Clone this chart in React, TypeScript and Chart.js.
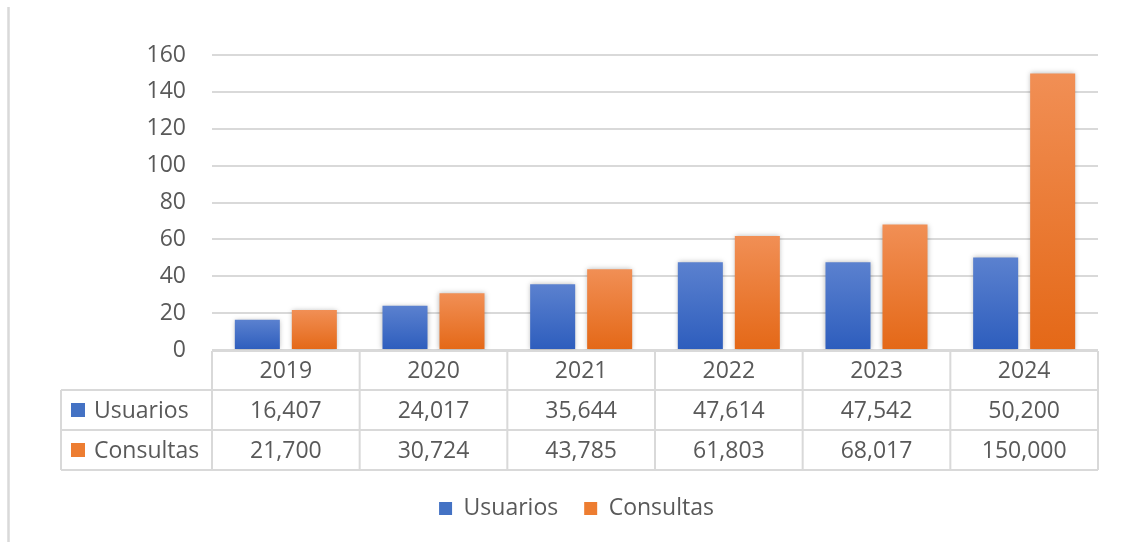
import React, { useEffect, useRef } from "react";
import { Chart, registerables } from "chart.js";

Chart.register(...registerables);

const years = ["2019", "2020", "2021", "2022", "2023", "2024"];
const usuarios = [16407, 24017, 35644, 47614, 47542, 50200];
const consultas = [21700, 30724, 43785, 61803, 68017, 150000];
const seriesNames = ["Usuarios", "Consultas"];
const yMin = 0;
const yMax = 160;
const yStep = 20;

const FONT = "'Open Sans', 'DejaVu Sans', sans-serif";
const TEXT = "#595959";
const GRID = "#d9d9d9";
const COLORS = [
  { solid: "#4472c4", light: "#5b81cf", dark: "#2d5dbd" },
  { solid: "#ed7d31", light: "#f18f55", dark: "#e46817" },
];

function gradientFor(idx: number) {
  return (c: any) => {
    const col = COLORS[idx];
    if (c.type !== "data") return col.solid;
    const chart = c.chart;
    const y = chart.scales && chart.scales.y;
    if (!y || !c.parsed) return col.solid;
    const t = y.getPixelForValue(c.parsed.y);
    const b = y.getPixelForValue(0);
    if (!isFinite(t) || !isFinite(b) || Math.abs(b - t) < 1) return col.solid;
    const g = chart.ctx.createLinearGradient(0, t, 0, b);
    g.addColorStop(0, col.light);
    g.addColorStop(1, col.dark);
    return g;
  };
}

const shadowPlugin = {
  id: "barShadow",
  beforeDatasetsDraw(chart: any) {
    const ctx = chart.ctx;
    ctx.save();
    ctx.shadowColor = "rgba(0,0,0,0.28)";
    ctx.shadowBlur = 5;
    ctx.shadowOffsetX = 0;
    ctx.shadowOffsetY = 0;
  },
  afterDatasetsDraw(chart: any) {
    chart.ctx.restore();
  },
};

const tablePlugin = {
  id: "dataTable",
  beforeDraw(chart: any) {
    const ctx = chart.ctx;
    ctx.save();
    ctx.fillStyle = "#ffffff";
    ctx.fillRect(0, 0, chart.width, chart.height);
    ctx.strokeStyle = GRID;
    ctx.lineWidth = 2.5;
    ctx.beginPath();
    ctx.moveTo(8.5, 7);
    ctx.lineTo(8.5, chart.height);
    ctx.stroke();
    ctx.restore();
  },
  afterDraw(chart: any) {
    const ctx = chart.ctx;
    const xs = chart.scales.x;
    const area = chart.chartArea;
    const n = years.length;
    const colW = (xs.right - xs.left) / n;
    const top = area.bottom + 1;
    const rows = [top, top + 39, top + 79, top + 119];
    const labelLeft = area.left - 151;
    ctx.save();
    ctx.strokeStyle = GRID;
    ctx.lineWidth = 2;
    ctx.beginPath();
    ctx.moveTo(area.left, rows[0]);
    ctx.lineTo(area.right, rows[0]);
    for (let r = 1; r < rows.length; r++) {
      ctx.moveTo(labelLeft, rows[r]);
      ctx.lineTo(area.right, rows[r]);
    }
    for (let i = 0; i <= n; i++) {
      const x = xs.left + i * colW;
      ctx.moveTo(x, rows[0]);
      ctx.lineTo(x, rows[3]);
    }
    ctx.moveTo(labelLeft, rows[1]);
    ctx.lineTo(labelLeft, rows[3]);
    ctx.stroke();

    ctx.fillStyle = TEXT;
    ctx.font = `23px ${FONT}`;
    ctx.textAlign = "center";
    ctx.textBaseline = "middle";
    const series = [usuarios, consultas];
    for (let i = 0; i < n; i++) {
      const cx = xs.getPixelForValue(i);
      ctx.fillText(years[i], cx, (rows[0] + rows[1]) / 2 + 1);
      for (let s = 0; s < series.length; s++) {
        ctx.fillText(
          series[s][i].toLocaleString("en-US"),
          cx,
          (rows[s + 1] + rows[s + 2]) / 2 + 1
        );
      }
    }
    ctx.textAlign = "left";
    for (let s = 0; s < seriesNames.length; s++) {
      const cy = (rows[s + 1] + rows[s + 2]) / 2;
      ctx.fillStyle = COLORS[s].solid;
      ctx.fillRect(labelLeft + 10, cy - 7, 14, 14);
      ctx.fillStyle = TEXT;
      ctx.fillText(seriesNames[s], labelLeft + 33, cy + 1);
    }
    ctx.restore();
  },
};

export default function App() {
  const ref = useRef<HTMLCanvasElement | null>(null);
  useEffect(() => {
    if (!ref.current) return;
    const chart = new Chart(ref.current, {
      type: "bar",
      data: {
        labels: years,
        datasets: [
          {
            label: seriesNames[0],
            data: usuarios.map((v) => v / 1000),
            backgroundColor: gradientFor(0),
            categoryPercentage: 0.772,
            barPercentage: 0.79,
          },
          {
            label: seriesNames[1],
            data: consultas.map((v) => v / 1000),
            backgroundColor: gradientFor(1),
            categoryPercentage: 0.772,
            barPercentage: 0.79,
          },
        ],
      },
      options: {
        animation: false,
        responsive: true,
        maintainAspectRatio: false,
        layout: { padding: { left: 55, right: 25, top: 55, bottom: 12 } },
        font: { family: FONT, size: 23 },
        color: TEXT,
        plugins: {
          tooltip: { enabled: false },
          legend: {
            position: "bottom",
            labels: {
              color: TEXT,
              font: { family: FONT, size: 23 },
              boxWidth: 13,
              boxHeight: 13,
              padding: 26,
              generateLabels: (chart: any) => {
                const items = Chart.defaults.plugins.legend.labels.generateLabels(chart);
                return items.map((it: any, i: number) => ({
                  ...it,
                  fillStyle: COLORS[i].solid,
                  strokeStyle: COLORS[i].solid,
                  lineWidth: 0,
                }));
              },
            },
          },
        },
        scales: {
          x: {
            type: "category",
            display: true,
            grid: { display: false },
            border: { display: false },
            ticks: { display: false },
            afterFit: (s: any) => {
              s.height = 121;
            },
          },
          y: {
            min: yMin,
            max: yMax,
            ticks: {
              stepSize: yStep,
              color: TEXT,
              padding: 26,
              font: { family: FONT, size: 23 },
            },
            grid: { color: GRID, lineWidth: 2, drawTicks: false },
            border: { display: false },
            afterFit: (s: any) => {
              s.width = 157;
            },
          },
        },
      },
      plugins: [tablePlugin, shadowPlugin],
    } as any);
    return () => chart.destroy();
  }, []);
  return (
    <div style={{ position: "fixed", left: 0, top: 0, width: 1123, height: 542, background: "#fff" }}>
      <canvas ref={ref} style={{ width: "100%", height: "100%" }} />
    </div>
  );
}
